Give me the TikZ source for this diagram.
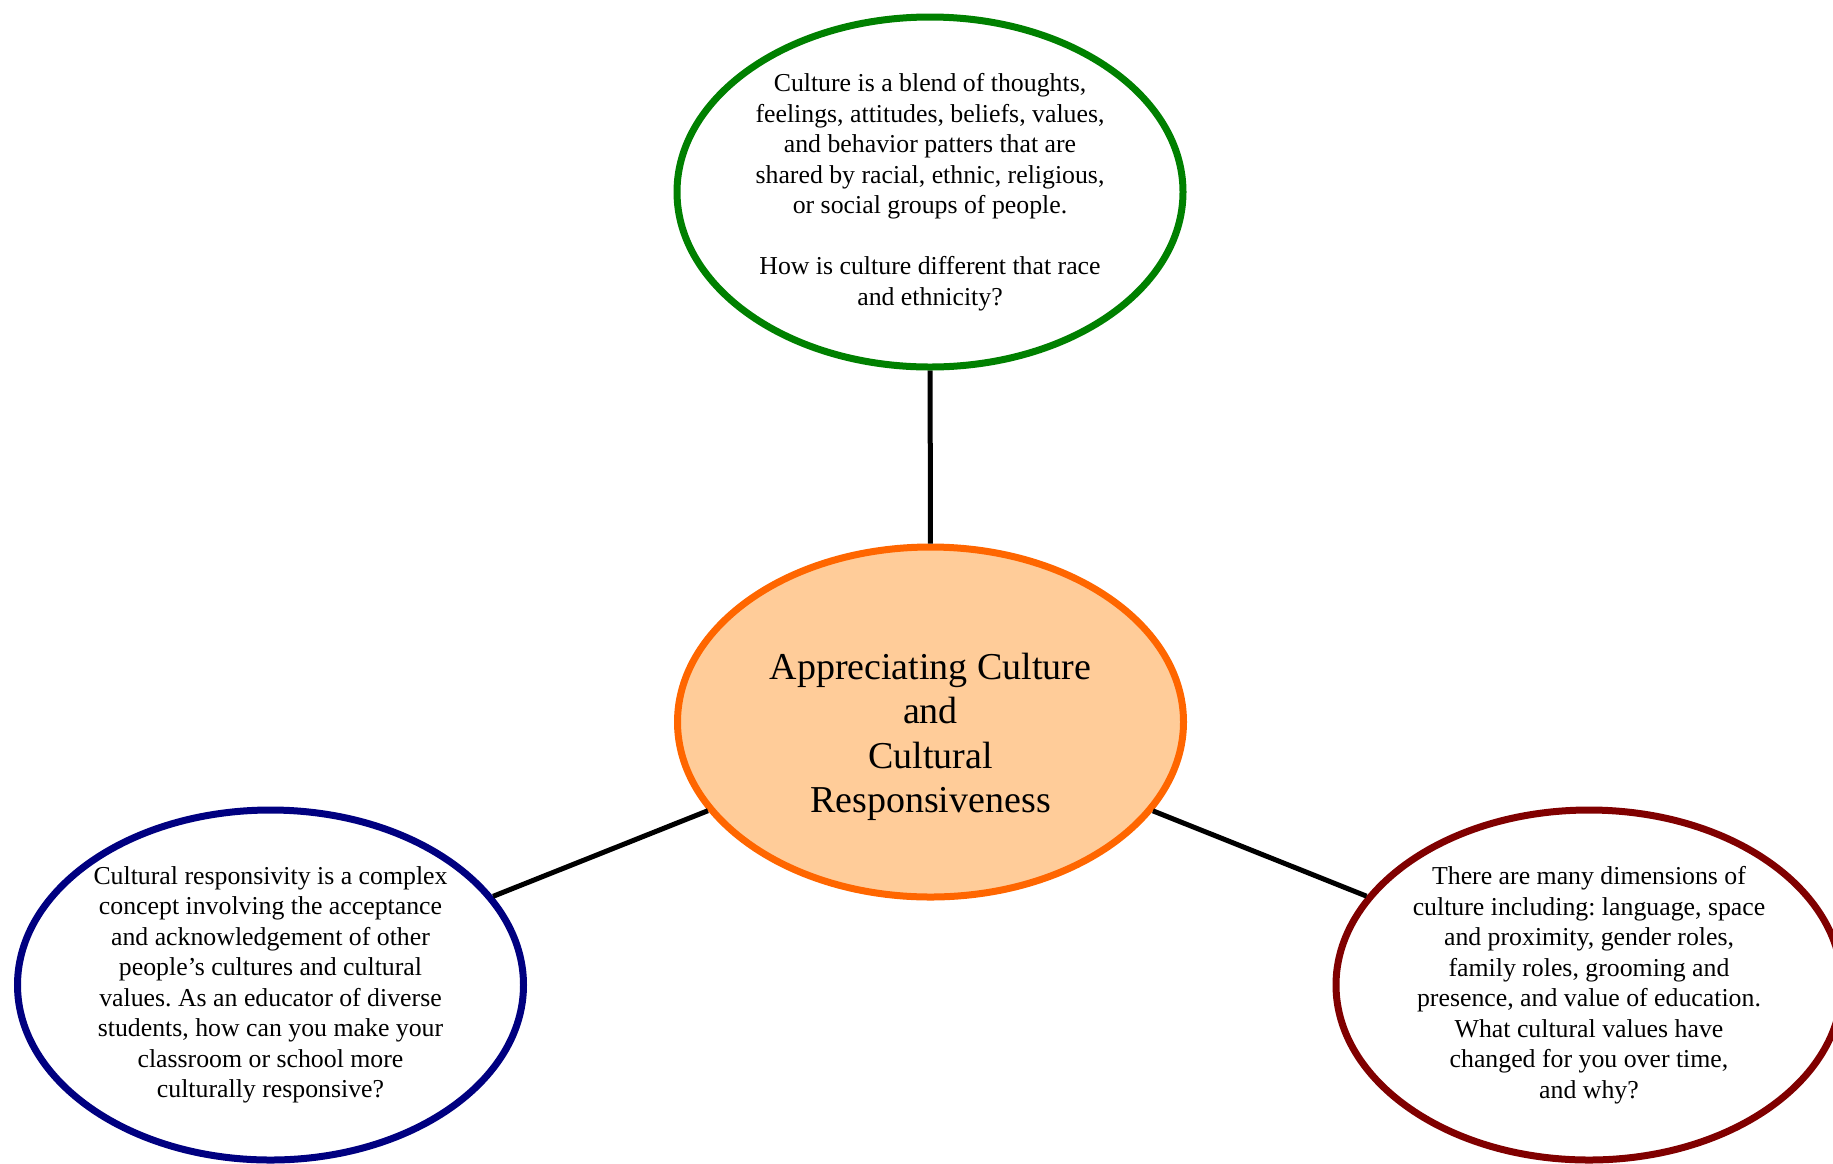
\documentclass[tikz,border=0pt]{standalone}
\usepackage{fontspec}
\setmainfont{Liberation Serif}
\frenchspacing
\usetikzlibrary{shapes.geometric}
\definecolor{ringgreen}{RGB}{0,128,0}
\definecolor{ringblue}{RGB}{0,0,128}
\definecolor{ringred}{RGB}{128,0,0}
\definecolor{ringorange}{RGB}{255,102,0}
\definecolor{fillorange}{RGB}{255,204,153}
\tikzset{
  bubble/.style={ellipse, draw, line width=7pt, minimum width=506pt, minimum height=350pt, inner sep=0pt, fill=white},
  bodytext/.style={align=center, font=\fontsize{25.8pt}{30.5pt}\selectfont},
  titletext/.style={align=center, font=\fontsize{38pt}{44.5pt}\selectfont},
  link/.style={line width=5pt, black}
}
\begin{document}
\begin{tikzpicture}[x=1pt,y=-1pt]
\useasboundingbox (0,0) rectangle (1833,1163);
\node[bubble, draw=ringgreen] (culture) at (930,192) {};
\node[bubble, draw=ringorange, fill=fillorange] (hub) at (930.5,722) {};
\node[bubble, draw=ringblue] (respons) at (270.5,985) {};
\node[bubble, draw=ringred] (dims) at (1589,985) {};
\draw[link] (hub) -- (culture);
\draw[link] (hub) -- (respons);
\draw[link] (hub) -- (dims);
\node[bodytext] (culturetext) at (culture.center) {Culture is a blend of thoughts,\\feelings, attitudes, beliefs, values,\\and behavior patters that are\\shared by racial, ethnic, religious,\\or social groups of people.\\[30.5pt]How is culture different that race\\and ethnicity?};
\node[titletext] (hubtext) at ([yshift=-15pt]hub.center) {Appreciating Culture\\and\\Cultural\\Responsiveness};
\node[bodytext] (responstext) at (respons.center) {Cultural responsivity is a complex\\concept involving the acceptance\\and acknowledgement of other\\people’s cultures and cultural\\values. As an educator of diverse\\students, how can you make your\\classroom or school more\\culturally responsive?};
\node[bodytext] (dimstext) at (dims.center) {There are many dimensions of\\culture including: language, space\\and proximity, gender roles,\\family roles, grooming and\\presence, and value of education.\\What cultural values have\\changed for you over time,\\and why?};
\end{tikzpicture}
\end{document}
